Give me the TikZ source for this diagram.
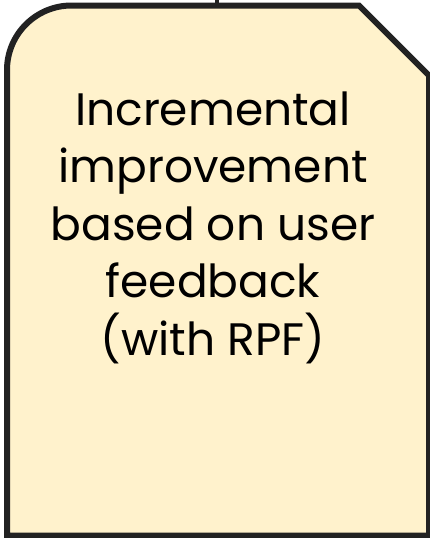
\documentclass[tikz,border=0pt]{standalone}
\usepackage{fontspec}
\setmainfont{Poppins}
\definecolor{cardfill}{HTML}{FFF2CC}
\definecolor{cardline}{HTML}{222222}
\tikzset{
  card/.style={draw=cardline, fill=cardfill, line width=6pt, line join=miter},
  cardtext/.style={align=center, inner sep=0pt, font=\fontsize{45.5}{57.5}\selectfont, text=black},
  link/.style={draw=cardline, line width=4pt}
}
\begin{document}
\begin{tikzpicture}[x=1pt,y=-1pt]
\useasboundingbox (0,0) rectangle (430,538);
\fill[white] (0,0) rectangle (430,538);
\draw[card] (7,535.5) -- (7,70) arc[start angle=180, end angle=270, radius=64.5] -- (359,5.5) -- (429,75.5) -- (429,535.5) -- cycle;
\coordinate (top) at (217,0);
\coordinate (cardtop) at (217,5.5);
\draw[link] (top) -- (cardtop);
\node[cardtext, anchor=base] (label) at (213,355) {Incremental\\improvement\\based on user\\feedback\\(with RPF)};
\end{tikzpicture}
\end{document}
